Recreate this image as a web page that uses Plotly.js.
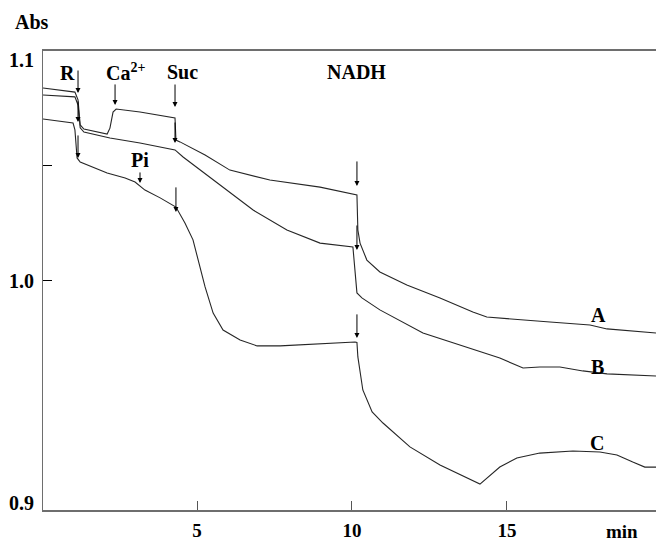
<!DOCTYPE html>
<html>
<head>
<meta charset="utf-8">
<script src="https://cdn.plot.ly/plotly-3.0.1.min.js"></script>
<style>html,body{margin:0;padding:0;background:#fff;}#chart{width:656px;height:543px;}</style>
</head>
<body>
<div id="chart"></div>
<script>
// Time (min) and absorbance values
const timeA = [0.03,1.06,1.16,1.23,1.35,2.10,2.19,2.29,2.39,3.16,4.29,4.32,4.45,5.26,6.06,7.35,8.97,10.10,10.16,10.19,10.26,10.48,10.90,11.77,12.84,13.90,14.35,16.39,17.68,18.23,19.81];
const absA  = [1.0839,1.0821,1.0787,1.0678,1.0660,1.0638,1.0664,1.0734,1.0747,1.0734,1.0708,1.0612,1.0604,1.0547,1.0481,1.0438,1.0407,1.0377,1.0373,1.0220,1.0163,1.0089,1.0037,0.9980,0.9924,0.9863,0.9841,0.9819,0.9806,0.9789,0.9771];

const timeB = [0.03,1.06,1.16,1.23,1.35,2.19,3.16,4.29,4.55,5.10,5.84,6.81,7.90,8.97,10.03,10.10,10.16,10.32,10.90,12.29,13.71,14.77,15.52,16.06,16.71,17.45,18.23,19.81];
const absB  = [1.0808,1.0800,1.0765,1.0665,1.0647,1.0621,1.0599,1.0569,1.0538,1.0482,1.0407,1.0307,1.0220,1.0163,1.0146,1.0046,0.9946,0.9924,0.9872,0.9771,0.9710,0.9662,0.9619,0.9623,0.9623,0.9606,0.9593,0.9584];

const timeC = [0.03,1.00,1.06,1.13,1.23,2.10,2.68,3.00,3.32,3.81,4.32,4.61,4.87,5.26,5.52,5.84,6.39,6.94,7.68,8.74,10.10,10.16,10.19,10.35,10.65,11.00,11.87,12.84,14.13,14.77,15.32,16.06,17.13,18.00,18.55,19.06,19.45,19.81];
const absC  = [1.0704,1.0686,1.0656,1.0534,1.0516,1.0468,1.0447,1.0429,1.0394,1.0360,1.0320,1.0251,1.0177,0.9972,0.9858,0.9784,0.9741,0.9715,0.9715,0.9723,0.9732,0.9730,0.9667,0.9523,0.9427,0.9379,0.9275,0.9196,0.9113,0.9187,0.9227,0.9248,0.9257,0.9253,0.9240,0.9209,0.9187,0.9187];

// Addition arrows (time, absorbance at the arrow head)
const arrowTime = [1.16,1.16,1.16,2.355,4.29,4.29,4.32,3.16,10.16,10.16,10.16];
const arrowAbs  = [1.0817,1.0691,1.0534,1.0765,1.0756,1.0599,1.0299,1.0425,1.0412,1.0133,0.9750];
const arrowLen  = [24,22,24,22,24,22,26,12,26,26,25];

// Labels of additions and traces
const labelText = ['R','Ca<sup>2+</sup>','Suc','Pi','NADH','A','B','C'];
const labelTime = [0.81,2.68,4.52,3.16,10.16,17.94,17.91,17.91];
const labelAbs  = [1.0904,1.0909,1.0909,1.0525,1.0909,0.9850,0.9623,0.9290];

// Axis ticks
const xTicks = [5,10,15];
const xTickText = ['5','10','15'];
const yTickMarks = [1.0,1.05];
const yLabelVals = ['1.1','1.0','0.9'];
const yLabelPos = [1.0961,0.9998,0.9031];

const F = {family:'"Liberation Serif", "Times New Roman", serif', size:20, color:'#000', weight:'bold'};
const FT = {family:'"Liberation Serif", "Times New Roman", serif', size:19, color:'#000', weight:'bold'};
const lineStyle = {color:'#262626', width:1.1};

const traces = [
  {x:timeA, y:absA, mode:'lines', line:lineStyle, hoverinfo:'skip'},
  {x:timeB, y:absB, mode:'lines', line:lineStyle, hoverinfo:'skip'},
  {x:timeC, y:absC, mode:'lines', line:lineStyle, hoverinfo:'skip'}
];

const ann = [];
arrowTime.forEach((t,i)=>{
  ann.push({x:t, y:arrowAbs[i], xref:'x', yref:'y', text:'', showarrow:true,
    ax:0, ay:-arrowLen[i], arrowhead:2, arrowsize:1, arrowwidth:1, arrowcolor:'#000'});
});
labelText.forEach((s,i)=>{
  ann.push({x:labelTime[i], y:labelAbs[i], xref:'x', yref:'y', text:s, showarrow:false,
    font:F, xanchor:'center', yanchor:'middle'});
});
yLabelVals.forEach((s,i)=>{
  ann.push({x:0, y:yLabelPos[i], xref:'paper', yref:'y', text:s, showarrow:false,
    font:F, xanchor:'right', yanchor:'middle', xshift:-7});
});
ann.push({x:-0.018, y:1.063, xref:'paper', yref:'paper', text:'Abs', showarrow:false, font:F, xanchor:'center', yanchor:'middle'});
ann.push({x:(622-43)/613, y:-0.046, xref:'paper', yref:'paper', text:'min', showarrow:false, font:FT, xanchor:'center', yanchor:'middle'});

const layout = {
  width:656, height:543,
  margin:{l:43, r:0, t:51, b:33},
  paper_bgcolor:'#fff', plot_bgcolor:'#fff',
  showlegend:false,
  xaxis:{range:[0.03,19.81], showgrid:false, zeroline:false, showline:true, mirror:true,
    linecolor:'#6e6e6e', linewidth:2, ticks:'inside', ticklen:9, tickwidth:1, tickcolor:'#555',
    tickvals:xTicks, ticktext:xTickText, tickfont:FT, ticklabelstandoff:2},
  yaxis:{range:[0.9,1.1], showgrid:false, zeroline:false, showline:true,
    linecolor:'#6e6e6e', linewidth:1.5, ticks:'inside', ticklen:9, tickwidth:1, tickcolor:'#000',
    tickvals:yTickMarks, showticklabels:false},
  annotations:ann
};

Plotly.newPlot('chart', traces, layout, {staticPlot:true, displayModeBar:false});
</script>
</body>
</html>
